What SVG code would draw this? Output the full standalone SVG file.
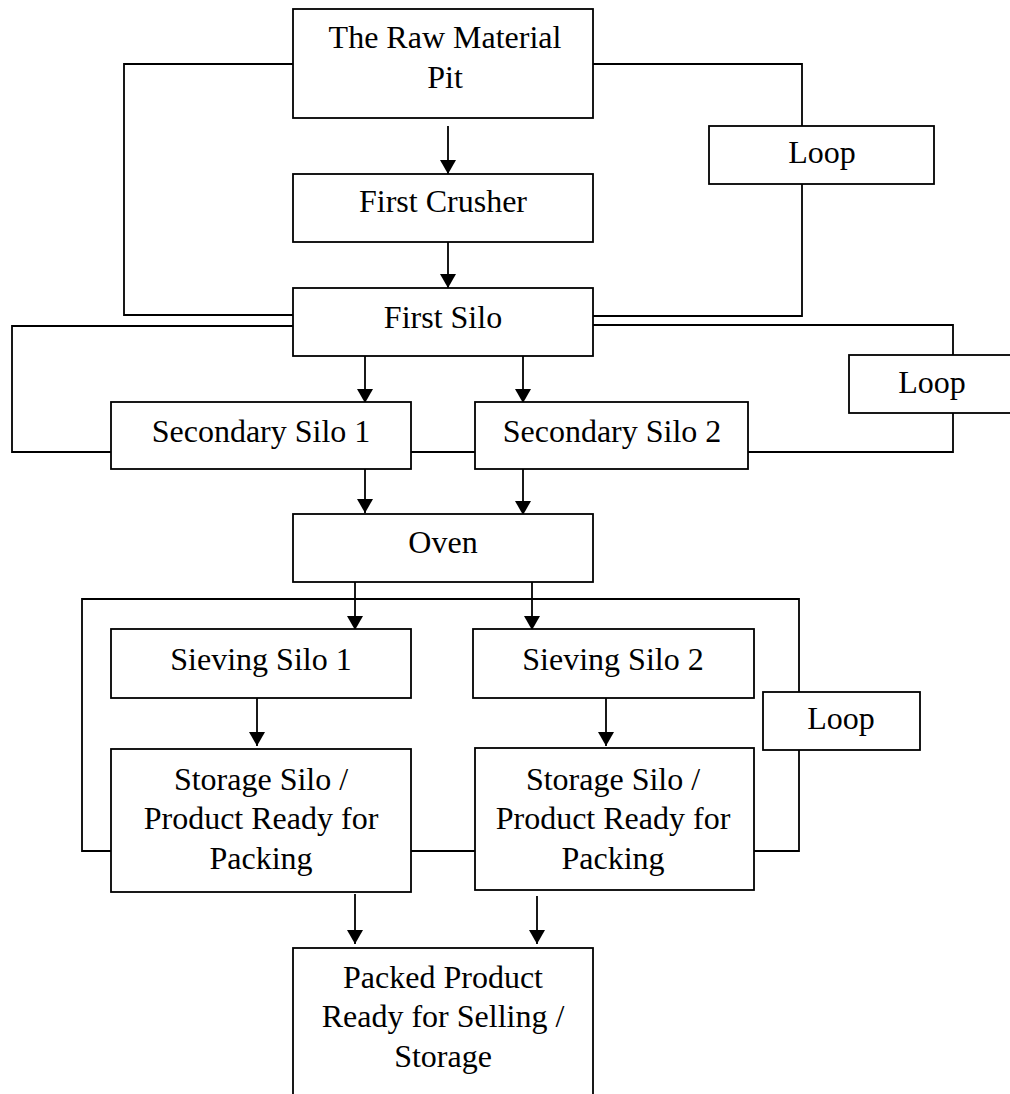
<svg xmlns="http://www.w3.org/2000/svg" width="1010" height="1094" viewBox="0 0 1010 1094">
<style>
.box{fill:#fff;stroke:#000;stroke-width:1.8}
.t{font-family:"Liberation Serif","Times New Roman",serif;font-size:32px;text-anchor:middle;fill:#000}
.c{fill:none;stroke:#000;stroke-width:1.8}
</style>
<defs>
<marker id="ah" markerUnits="userSpaceOnUse" markerWidth="14" markerHeight="16" refX="14" refY="8" orient="auto">
<path d="M0,0 L14,8 L0,16 z" fill="#000"/>
</marker>
</defs>
<rect width="1010" height="1094" fill="#fff"/>
<g id="connectors">
<polyline class="c" points="293,64 124,64 124,315 293,315"/>
<polyline class="c" points="593,64 802,64 802,126"/>
<polyline class="c" points="802,184 802,316 593,316"/>
<polyline class="c" points="293,326 12,326 12,452 111,452"/>
<polyline class="c" points="593,325 953,325 953,355"/>
<polyline class="c" points="953,413 953,452 748,452"/>
<line class="c" x1="411" y1="452" x2="475" y2="452"/>
<polyline class="c" points="111,851 82,851 82,599 799,599 799,692"/>
<polyline class="c" points="799,750 799,851 754,851"/>
<line class="c" x1="411" y1="851" x2="475" y2="851"/>
<line class="c" x1="448" y1="126" x2="448" y2="174" marker-end="url(#ah)"/>
<line class="c" x1="448" y1="242" x2="448" y2="288" marker-end="url(#ah)"/>
<line class="c" x1="365" y1="356" x2="365" y2="403" marker-end="url(#ah)"/>
<line class="c" x1="523" y1="356" x2="523" y2="403" marker-end="url(#ah)"/>
<line class="c" x1="365" y1="466" x2="365" y2="513" marker-end="url(#ah)"/>
<line class="c" x1="523" y1="469" x2="523" y2="515" marker-end="url(#ah)"/>
<line class="c" x1="355" y1="582" x2="355" y2="630" marker-end="url(#ah)"/>
<line class="c" x1="532" y1="582" x2="532" y2="630" marker-end="url(#ah)"/>
<line class="c" x1="257" y1="698" x2="257" y2="746" marker-end="url(#ah)"/>
<line class="c" x1="606" y1="698" x2="606" y2="746" marker-end="url(#ah)"/>
<line class="c" x1="355" y1="894" x2="355" y2="944" marker-end="url(#ah)"/>
<line class="c" x1="537" y1="896" x2="537" y2="944" marker-end="url(#ah)"/>
</g>
<g id="raw-material-pit">
<rect class="box" x="293" y="9" width="300" height="109"/>
<text class="t" x="445" y="48">The Raw Material</text>
<text class="t" x="445" y="88">Pit</text>
</g>
<g id="first-crusher">
<rect class="box" x="293" y="174" width="300" height="68"/>
<text class="t" x="443" y="212">First Crusher</text>
</g>
<g id="first-silo">
<rect class="box" x="293" y="288" width="300" height="68"/>
<text class="t" x="443" y="328">First Silo</text>
</g>
<g id="loop-1">
<rect class="box" x="709" y="126" width="225" height="58"/>
<text class="t" x="822" y="163">Loop</text>
</g>
<g id="loop-2">
<rect class="box" x="849" y="355" width="162" height="58"/>
<text class="t" x="932" y="393">Loop</text>
</g>
<g id="secondary-silo-1">
<rect class="box" x="111" y="402" width="300" height="67"/>
<text class="t" x="261" y="442">Secondary Silo 1</text>
</g>
<g id="secondary-silo-2">
<rect class="box" x="475" y="402" width="273" height="67"/>
<text class="t" x="612" y="442">Secondary Silo 2</text>
</g>
<g id="oven">
<rect class="box" x="293" y="514" width="300" height="68"/>
<text class="t" x="443" y="553">Oven</text>
</g>
<g id="sieving-silo-1">
<rect class="box" x="111" y="629" width="300" height="69"/>
<text class="t" x="261" y="670">Sieving Silo 1</text>
</g>
<g id="sieving-silo-2">
<rect class="box" x="473" y="629" width="281" height="69"/>
<text class="t" x="613" y="670">Sieving Silo 2</text>
</g>
<g id="loop-3">
<rect class="box" x="763" y="692" width="157" height="58"/>
<text class="t" x="841" y="729">Loop</text>
</g>
<g id="storage-silo-1">
<rect class="box" x="111" y="749" width="300" height="143"/>
<text class="t" x="261" y="790">Storage Silo /</text>
<text class="t" x="261" y="829">Product Ready for</text>
<text class="t" x="261" y="869">Packing</text>
</g>
<g id="storage-silo-2">
<rect class="box" x="475" y="748" width="279" height="142"/>
<text class="t" x="613" y="790">Storage Silo /</text>
<text class="t" x="613" y="829">Product Ready for</text>
<text class="t" x="613" y="869">Packing</text>
</g>
<g id="packed-product">
<rect class="box" x="293" y="948" width="300" height="160"/>
<text class="t" x="443" y="988">Packed Product</text>
<text class="t" x="443" y="1027">Ready for Selling /</text>
<text class="t" x="443" y="1067">Storage</text>
</g>
</svg>
